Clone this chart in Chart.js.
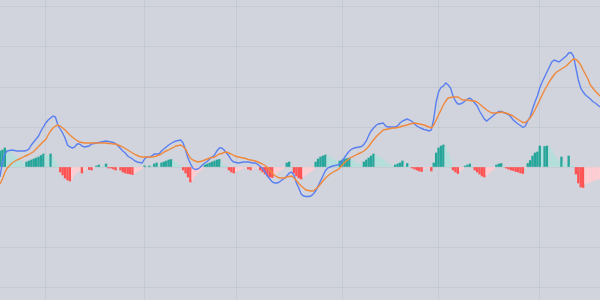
<!DOCTYPE html>
<html>
<head>
<meta charset="utf-8">
<script src="https://cdn.jsdelivr.net/npm/chart.js@4"></script>
<style>
  html, body { margin: 0; padding: 0; background: #d1d4dc; }
  #wrap { width: 600px; height: 300px; position: relative; }
</style>
</head>
<body>
<div id="wrap"><canvas id="macdChart"></canvas></div>
<script>
// MACD line, signal line and histogram, one value per bar
const macd = [
  -10,5,13,16,16.5,17,16.5,16,16,16,
  16,16.5,18,22,25,28,31,36,40,44,
  47,49,51,50,42,38,34,29,22,20,
  19,20,23,23,21,20,20.5,21,23,23.5,
  24,24.5,25,25.5,26,25.5,25,24.5,23.5,21,
  18.5,16,14,11,9.5,8,6,5,4.5,4,
  8,10,10,11,13,13,13,16,18,20,
  22,23.5,25,26,26.5,27,24,17,9,3.5,
  -1,-2.5,-2,-0.5,2,4,5.5,8,10,12,
  16,19,19,17,14,11,7,5,4.5,4,
  4.5,5,5,5,4.5,4,4,2.5,0.5,-1.5,
  -5,-9,-12,-15,-16,-16,-15,-13,-11.5,-9,
  -6,-5,-8,-16,-21,-27,-29,-29.5,-29.5,-29,
  -27,-24,-19,-14,-9,-4,-1,0,1,1.5,
  2,3,6,9.5,13,16,18,19,19.5,20,
  20.5,22.5,26,31.5,36,39,41.5,43,43.5,44,
  41,40,40,40,40,41,44,46,47,48,
  47,45.5,43,41,39.5,38.5,37.5,37,36,37,
  48,65,75,79.5,81,84,82,79,71,66,
  63,63,64,66,68,69,67,64,61,56,
  52,48,46,48,50,52,54,55.5,55.5,54.5,
  53.5,52.5,50,47,45,43,41.5,39.5,41,46,
  50,58,65,71,79,85,90,95,100,105,
  107,106,105,107,109,111,114,114.5,111,99,
  87,79,75,72,70,68,65.5,64,62,60
];

const signal = [
  -17,-12,-5.5,-1,1.5,4,5.5,7,8,9,
  10.5,11.5,12.5,14,15.5,18,20.5,23,25.5,27.5,
  32,36,39,41,42,41,39,37,34.5,32,
  30,28,26.5,25,24.5,24,24,24,24,24,
  24,24,24,24,24,23.5,23.5,23,23,22,
  21,20,18.5,17,15.5,14,12.5,11.5,10.5,10,
  10,10,10,10,10.5,11,12,13,15,16,
  17,18.5,19.5,21,21.5,22,20.5,18,13,9,
  7,6,5,5.5,6,7,8,9,9.5,10,
  11.5,13,13.5,14.5,15,14,13,11.5,10.5,10,
  9.5,9,8.5,7.5,7,6.5,6,5,4,3,
  1.5,-0.5,-3,-6,-8.5,-10,-11,-11,-11,-10,
  -9.5,-9,-11,-13.5,-16.5,-19,-21,-23,-23.5,-24,
  -24,-22,-20,-17,-14,-11,-9,-7,-5.5,-4,
  -3,-1,2,4.5,6.5,8.5,10,11,12.5,13.5,
  14.5,16,18,20.5,24,27,30,32.5,34.5,37,
  37.5,38,38.5,39,39,39.5,40,41,41.5,42,
  43,43.5,44,43.5,43,42.5,42,41,40,39,
  42,47,52,57,62,66,69,69.5,70,70,
  70,68.5,67,67,67,66.5,66,66,65,63,
  61,59,57,55.5,54,54,54,54.5,55,54.5,
  54,53,52,51,49,47.5,46,44.5,44.5,46.5,
  49,52.5,57,62,67,72,77,81,85.5,89,
  92.5,95,96.5,98,99.5,101,103.5,106,108,107.5,
  105.5,102,97,92.5,88,82,79,76,73.5,71
];

const hist = [
  16,17,19,17,15,13,11,9,7,5,
  3.5,5,6,7,8,9,10,11.5,13,12,
  11.5,13,10,6,2,-5,-8,-11,-13,-14,
  -12,-8,-5,-4,-6,-3,-1.5,-2.5,-3,-1,
  0.5,2,1,0.5,3,-0.5,-1,-2,-3,-1,
  -3,-5,-6,-6.5,-7,-7.5,-6,-4.5,-3,-1.5,
  1.2,0.5,1,0.5,3,4,3,4,5,6,
  7,7.5,6,4,2.5,1,-3,-6,-10,-15,
  -13,-9,-6,-4,-2,2,3,4,5,6,
  7,7.5,4,1.5,0.5,-3,-5,-6,-4,-3,
  -2,-1,-0.5,-2,-3,-2,-1,-0.5,-3,-5,
  -7,-9,-10,-10.5,-8,-6,-4,-2.5,-1,4,
  5,0.5,-6,-9,-11,-12,-10,-8,-6,-4.5,
  -3,5,8,10,11,12,11,10,8.5,7,
  5,6,7,8,8.5,9,7,5.5,4,3,
  2,5,7,9,11,13,12,10.5,9,7.5,
  5.5,3.5,2,1,2,3,4,6,1,3.5,
  0.5,-1,-2,-3,-4,-4.5,-2,-1,-0.5,-4,
  4,14,19,21,22,20,14,8,-3,-5,
  -6.5,-4,-2,1,2,3,0.5,-3,-5,-7,
  -9,-10,-8,-6,-4,-2,2,3,3.5,0.5,
  -1,-2,-3,-3.5,-4.5,-5,-6,-6.5,-0.5,3.5,
  6.5,11,14,15,21,19.5,20.5,21,19,16,
  12,9,6,10,5,3,11,2,0.5,-7,
  -16,-20,-20.5,-17,-16,-15,-14,-13,-12.5,-12
];

const labels = hist.map((_, i) => i);
// bars where the vertical grid lines fall
const gridIdx = [19, 60, 98, 142, 182, 224];

// tradingview style histogram colours
const histColors = hist.map((v, i) => {
  const prev = i > 0 ? hist[i - 1] : -Infinity;
  if (v >= 0) return v > prev ? '#26a69a' : '#b2dfdb';
  return v < prev ? '#ff5252' : '#ffcdd2';
});

const gridColor = 'rgba(42, 46, 57, 0.06)';

new Chart(document.getElementById('macdChart'), {
  type: 'bar',
  data: {
    labels: labels,
    datasets: [{
      type: 'line',
      label: 'Signal',
      data: signal,
      borderColor: '#f0883c',
      borderWidth: 1.4,
      pointRadius: 0,
      tension: 0,
      order: 1
    }, {
      type: 'line',
      label: 'MACD',
      data: macd,
      borderColor: '#5a7ff0',
      borderWidth: 1.4,
      pointRadius: 0,
      tension: 0,
      order: 2
    }, {
      type: 'bar',
      label: 'Histogram',
      data: hist,
      backgroundColor: histColors,
      barThickness: 1.7,
      minBarLength: 1,
      order: 3
    }]
  },
  options: {
    responsive: true,
    maintainAspectRatio: false,
    animation: false,
    layout: { padding: 0 },
    plugins: {
      legend: { display: false },
      tooltip: { enabled: false }
    },
    scales: {
      x: {
        offset: false,
        border: { display: false },
        grid: {
          offset: false,
          drawTicks: false,
          color: (ctx) => gridIdx.includes(ctx.index) ? gridColor : 'transparent'
        },
        ticks: { display: false, autoSkip: false }
      },
      y: {
        min: -133,
        max: 167,
        border: { display: false },
        grid: { drawTicks: false, color: gridColor },
        ticks: { display: false, stepSize: 40, includeBounds: false }
      }
    }
  }
});
</script>
</body>
</html>
